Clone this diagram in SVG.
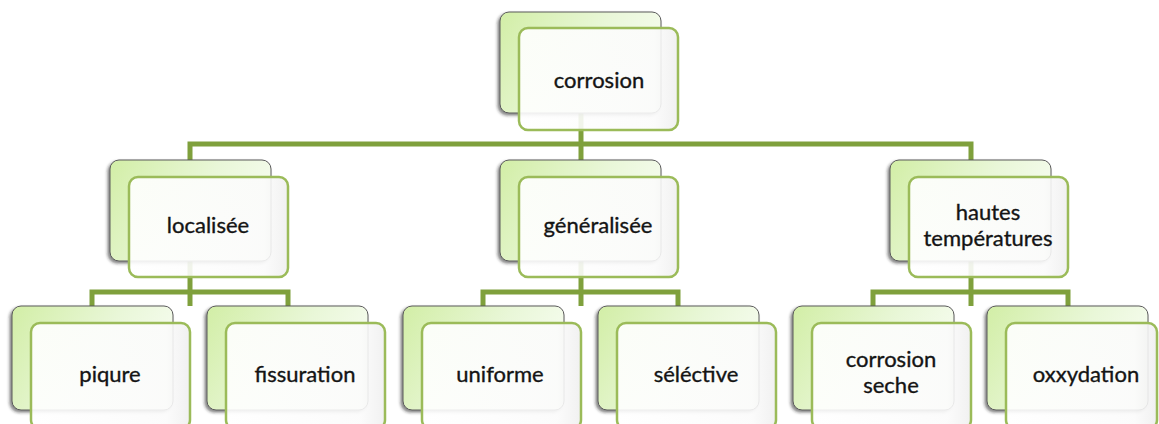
<svg xmlns="http://www.w3.org/2000/svg" width="1159" height="424" viewBox="0 0 1159 424">
  <defs>
    <linearGradient id="backFill" x1="0" y1="0" x2="1" y2="0.4">
      <stop offset="0" stop-color="#d2eea6"/>
      <stop offset="0.6" stop-color="#e9f7d8"/>
      <stop offset="1" stop-color="#f6fcef"/>
    </linearGradient>
    <linearGradient id="frontFill" x1="0" y1="0" x2="1" y2="0">
      <stop offset="0" stop-color="#ffffff"/>
      <stop offset="0.85" stop-color="#fbfbfb"/>
      <stop offset="1" stop-color="#efefef"/>
    </linearGradient>
    <filter id="backShadow" x="-10%" y="-10%" width="120%" height="125%">
      <feDropShadow dx="-2" dy="2" stdDeviation="1.4" flood-color="#222" flood-opacity="0.55"/>
    </filter>
  </defs>
  <style>
    .back { fill: url(#backFill); stroke: #5a5a5a; stroke-width: 1; filter: url(#backShadow); }
    .front { fill: url(#frontFill); fill-opacity: 0.9; stroke: #9bbb59; stroke-width: 2.5; }
    .link { fill: none; stroke: #7fa03c; stroke-width: 5; stroke-linejoin: miter; }
    .label { font-family: Lato, "Open Sans", sans-serif; font-size: 22px; fill: #141414; stroke: #141414; stroke-width: 0.35; text-anchor: middle; }
  </style>

  <!-- tree connectors -->
  <g id="connectors">
    <path class="link" d="M581 113 V160"/>
    <path class="link" d="M190 160 V144 H971 V160"/>
    <path class="link" d="M190 261 V306"/>
    <path class="link" d="M92 306 V292 H288 V306"/>
    <path class="link" d="M581 261 V306"/>
    <path class="link" d="M483 306 V292 H678 V306"/>
    <path class="link" d="M971 261 V306"/>
    <path class="link" d="M873 306 V292 H1068 V306"/>
  </g>

  <!-- root -->
  <g id="node-corrosion">
    <rect class="back" x="500" y="12" width="161" height="101" rx="9"/>
    <rect class="front" x="519" y="28" width="159" height="102" rx="9"/>
    <text class="label" x="599" y="88">corrosion</text>
  </g>

  <!-- second level -->
  <g id="node-localisee">
    <rect class="back" x="110" y="160" width="161" height="101" rx="9"/>
    <rect class="front" x="129" y="177" width="159" height="100" rx="9"/>
    <text class="label" x="208" y="233">localisée</text>
  </g>
  <g id="node-generalisee">
    <rect class="back" x="500" y="160" width="161" height="101" rx="9"/>
    <rect class="front" x="519" y="177" width="159" height="100" rx="9"/>
    <text class="label" x="598" y="233">généralisée</text>
  </g>
  <g id="node-hautes-temperatures">
    <rect class="back" x="890" y="160" width="161" height="101" rx="9"/>
    <rect class="front" x="909" y="177" width="159" height="100" rx="9"/>
    <text class="label" x="988" y="220">hautes</text>
    <text class="label" x="988" y="246">températures</text>
  </g>

  <!-- third level -->
  <g id="node-piqure">
    <rect class="back" x="12" y="306" width="161" height="104" rx="9"/>
    <rect class="front" x="31" y="323" width="159" height="106" rx="9"/>
    <text class="label" x="110" y="382">piqure</text>
  </g>
  <g id="node-fissuration">
    <rect class="back" x="207" y="306" width="161" height="104" rx="9"/>
    <rect class="front" x="226" y="323" width="159" height="106" rx="9"/>
    <text class="label" x="305" y="382">fissuration</text>
  </g>
  <g id="node-uniforme">
    <rect class="back" x="403" y="306" width="161" height="104" rx="9"/>
    <rect class="front" x="422" y="323" width="159" height="106" rx="9"/>
    <text class="label" x="500" y="382">uniforme</text>
  </g>
  <g id="node-selective">
    <rect class="back" x="598" y="306" width="161" height="104" rx="9"/>
    <rect class="front" x="617" y="323" width="159" height="106" rx="9"/>
    <text class="label" x="696" y="382">séléctive</text>
  </g>
  <g id="node-corrosion-seche">
    <rect class="back" x="793" y="306" width="161" height="104" rx="9"/>
    <rect class="front" x="812" y="323" width="159" height="106" rx="9"/>
    <text class="label" x="891" y="367">corrosion</text>
    <text class="label" x="891" y="393">seche</text>
  </g>
  <g id="node-oxxydation">
    <rect class="back" x="987" y="306" width="161" height="104" rx="9"/>
    <rect class="front" x="1006" y="323" width="151" height="106" rx="9"/>
    <text class="label" x="1086" y="382">oxxydation</text>
  </g>
</svg>
